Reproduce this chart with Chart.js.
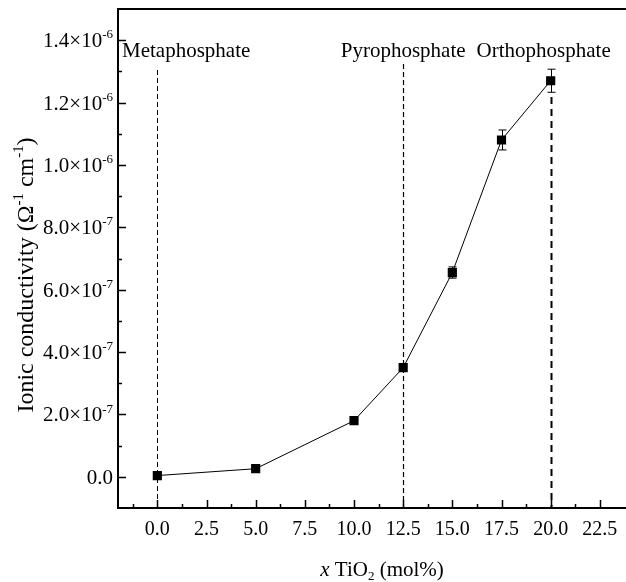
<!DOCTYPE html>
<html>
<head>
<meta charset="utf-8">
<script src="https://cdn.jsdelivr.net/npm/chart.js@4.4.0/dist/chart.umd.min.js"></script>
<style>
  html, body { margin: 0; padding: 0; background: #fff; overflow: hidden; }
  canvas { display: block; }
</style>
</head>
<body>
<canvas id="grafica" width="626" height="582"></canvas>
<script>
// Contenido de TiO2 (mol%) y conductividad iónica medida
const contenidoTiO2 = [0, 5, 10, 12.5, 15, 17.5, 20];
const conductividad = [4e-9, 2.6e-8, 1.8e-7, 3.5e-7, 6.55e-7, 1.08e-6, 1.27e-6];
const errorConductividad = [0, 0, 0, 0, 1.8e-8, 3.2e-8, 3.7e-8];

// Límites de composición de las fases
const fasesX = [0, 12.5, 20];
const fasesNombre = ["Metaphosphate", "Pyrophosphate", "Orthophosphate"];

// Marcas de los ejes
const ticksX = [0, 2.5, 5, 7.5, 10, 12.5, 15, 17.5, 20, 22.5];
const ticksY = [0, 2e-7, 4e-7, 6e-7, 8e-7, 1e-6, 1.2e-6, 1.4e-6];

const FUENTE = '"Liberation Serif", "Times New Roman", serif';

// Separa un valor en mantisa y exponente para escribir 1.4×10^-6
function etiquetaY(v) {
    if (v === 0) return { base: "0.0", exp: "" };
    const exp = Math.floor(Math.log10(v) + 1e-9);
    const mant = v / Math.pow(10, exp);
    return { base: mant.toFixed(1) + "×10", exp: String(exp) };
}

// Marcas menores a mitad de camino entre las mayores
function marcasMenores(marcas, min, max) {
    const paso = marcas[1] - marcas[0];
    const lista = [marcas[0] - paso / 2];
    marcas.forEach(m => lista.push(m + paso / 2));
    return lista.filter(v => v > min && v < max);
}

// Escribe texto con trozos normales, superíndices y subíndices
function textoCompuesto(ctx, partes, x, y, tam, alinear) {
    const medir = p => {
        ctx.font = (p.italica ? "italic " : "") + (p.sup || p.sub ? tam * 0.62 : tam) + "px " + FUENTE;
        return ctx.measureText(p.t).width;
    };
    const total = partes.reduce((s, p) => s + medir(p), 0);
    let cx = alinear === "center" ? x - total / 2 : alinear === "right" ? x - total : x;
    partes.forEach(p => {
        const w = medir(p);
        let dy = 0;
        if (p.sup) dy = -tam * 0.42;
        if (p.sub) dy = tam * 0.2;
        ctx.fillText(p.t, cx, y + dy);
        cx += w;
    });
}

const ejes = {
    id: "ejes",
    beforeDatasetsDraw(chart) {
        const { ctx, chartArea: a, scales: { x } } = chart;
        ctx.save();
        ctx.strokeStyle = "#000";
        // Líneas verticales discontinuas en cada fase
        const estilos = [
            { ancho: 1, guion: [5, 3], arriba: 70 },
            { ancho: 1.2, guion: [5, 3], arriba: 64 },
            { ancho: 2, guion: [7, 5], arriba: 97 }
        ];
        fasesX.forEach((f, i) => {
            const px = Math.round(x.getPixelForValue(f)) + 0.5;
            ctx.lineWidth = estilos[i].ancho;
            ctx.setLineDash(estilos[i].guion);
            ctx.beginPath();
            ctx.moveTo(px, estilos[i].arriba);
            ctx.lineTo(px, a.bottom);
            ctx.stroke();
        });
        ctx.restore();
    },
    afterDatasetsDraw(chart) {
        const { ctx, scales: { x, y } } = chart;
        // Barras de error
        ctx.save();
        ctx.strokeStyle = "#000";
        ctx.lineWidth = 1;
        contenidoTiO2.forEach((c, i) => {
            const e = errorConductividad[i];
            if (!e) return;
            const px = Math.round(x.getPixelForValue(c)) + 0.5;
            const y1 = y.getPixelForValue(conductividad[i] + e);
            const y2 = y.getPixelForValue(conductividad[i] - e);
            ctx.beginPath();
            ctx.moveTo(px, y1); ctx.lineTo(px, y2);
            ctx.moveTo(px - 4, y1); ctx.lineTo(px + 4, y1);
            ctx.moveTo(px - 4, y2); ctx.lineTo(px + 4, y2);
            ctx.stroke();
        });
        ctx.restore();
    },
    afterDraw(chart) {
        const { ctx, chartArea: a, scales: { x, y } } = chart;
        ctx.save();
        ctx.strokeStyle = "#000";
        ctx.fillStyle = "#000";

        // Marco: arriba, izquierda y abajo (el lado derecho queda fuera)
        ctx.lineWidth = 2;
        ctx.beginPath();
        ctx.moveTo(chart.width, a.top);
        ctx.lineTo(a.left, a.top);
        ctx.lineTo(a.left, a.bottom);
        ctx.lineTo(chart.width, a.bottom);
        ctx.stroke();

        // Marcas hacia dentro
        ctx.lineWidth = 1.5;
        ctx.beginPath();
        ticksX.forEach(v => {
            const px = Math.round(x.getPixelForValue(v)) + 0.5;
            ctx.moveTo(px, a.bottom); ctx.lineTo(px, a.bottom - 8);
        });
        marcasMenores(ticksX, x.min, x.max).forEach(v => {
            const px = Math.round(x.getPixelForValue(v)) + 0.5;
            ctx.moveTo(px, a.bottom); ctx.lineTo(px, a.bottom - 4);
        });
        ticksY.forEach(v => {
            const py = Math.round(y.getPixelForValue(v)) + 0.5;
            ctx.moveTo(a.left, py); ctx.lineTo(a.left + 8, py);
        });
        marcasMenores(ticksY, y.min, y.max).forEach(v => {
            const py = Math.round(y.getPixelForValue(v)) + 0.5;
            ctx.moveTo(a.left, py); ctx.lineTo(a.left + 4, py);
        });
        ctx.stroke();

        // Etiquetas del eje Y con exponente
        ctx.textBaseline = "alphabetic";
        ticksY.forEach(v => {
            const et = etiquetaY(v);
            const py = y.getPixelForValue(v) + 7;
            const partes = [{ t: et.base }];
            if (et.exp) partes.push({ t: et.exp, sup: true });
            textoCompuesto(ctx, partes, a.left - 5, py, 21, "right");
        });

        // Nombres de las fases
        ctx.font = "21px " + FUENTE;
        ctx.textAlign = "left";
        ctx.fillText(fasesNombre[0], a.left + 4, 57);
        ctx.textAlign = "center";
        ctx.fillText(fasesNombre[1], x.getPixelForValue(fasesX[1]), 57);
        ctx.fillText(fasesNombre[2], x.getPixelForValue(fasesX[2]) - 7, 57);
        ctx.textAlign = "left";

        // Título del eje X
        textoCompuesto(ctx, [
            { t: "x", italica: true },
            { t: " TiO" },
            { t: "2", sub: true },
            { t: " (mol%)" }
        ], 382, 576, 21, "center");

        // Título del eje Y, girado
        ctx.translate(33, 275);
        ctx.rotate(-Math.PI / 2);
        textoCompuesto(ctx, [
            { t: "Ionic conductivity (Ω" },
            { t: "-1", sup: true },
            { t: " cm" },
            { t: "-1", sup: true },
            { t: ")" }
        ], 0, 0, 24, "center");
        ctx.restore();
    }
};

new Chart(document.getElementById("grafica"), {
    type: "line",
    data: {
        datasets: [{
            data: contenidoTiO2.map((c, i) => ({ x: c, y: conductividad[i] })),
            borderColor: "#000",
            borderWidth: 1,
            pointStyle: "rect",
            pointRadius: 6.5,
            pointBackgroundColor: "#000",
            pointBorderWidth: 0,
            tension: 0
        }]
    },
    options: {
        responsive: false,
        animation: false,
        layout: { padding: { top: 9, right: 0, left: 0, bottom: 0 } },
        plugins: {
            legend: { display: false },
            tooltip: { enabled: false }
        },
        scales: {
            x: {
                type: "linear",
                min: -2,
                max: 23.5,
                grid: { display: false },
                border: { display: false },
                afterBuildTicks: s => { s.ticks = ticksX.map(v => ({ value: v })); },
                ticks: {
                    font: { family: FUENTE, size: 20 },
                    color: "#000",
                    padding: 2,
                    maxRotation: 0,
                    callback: v => v.toFixed(1)
                },
                afterFit: s => {
                    s.height = 74;
                    s.paddingLeft = 0;
                    s.paddingRight = 0;
                }
            },
            y: {
                type: "linear",
                min: -1e-7,
                max: 1.5e-6,
                grid: { display: false },
                border: { display: false },
                afterBuildTicks: s => { s.ticks = ticksY.map(v => ({ value: v })); },
                ticks: { display: false },
                afterFit: s => { s.width = 118; }
            }
        }
    },
    plugins: [ejes]
});
</script>
</body>
</html>
